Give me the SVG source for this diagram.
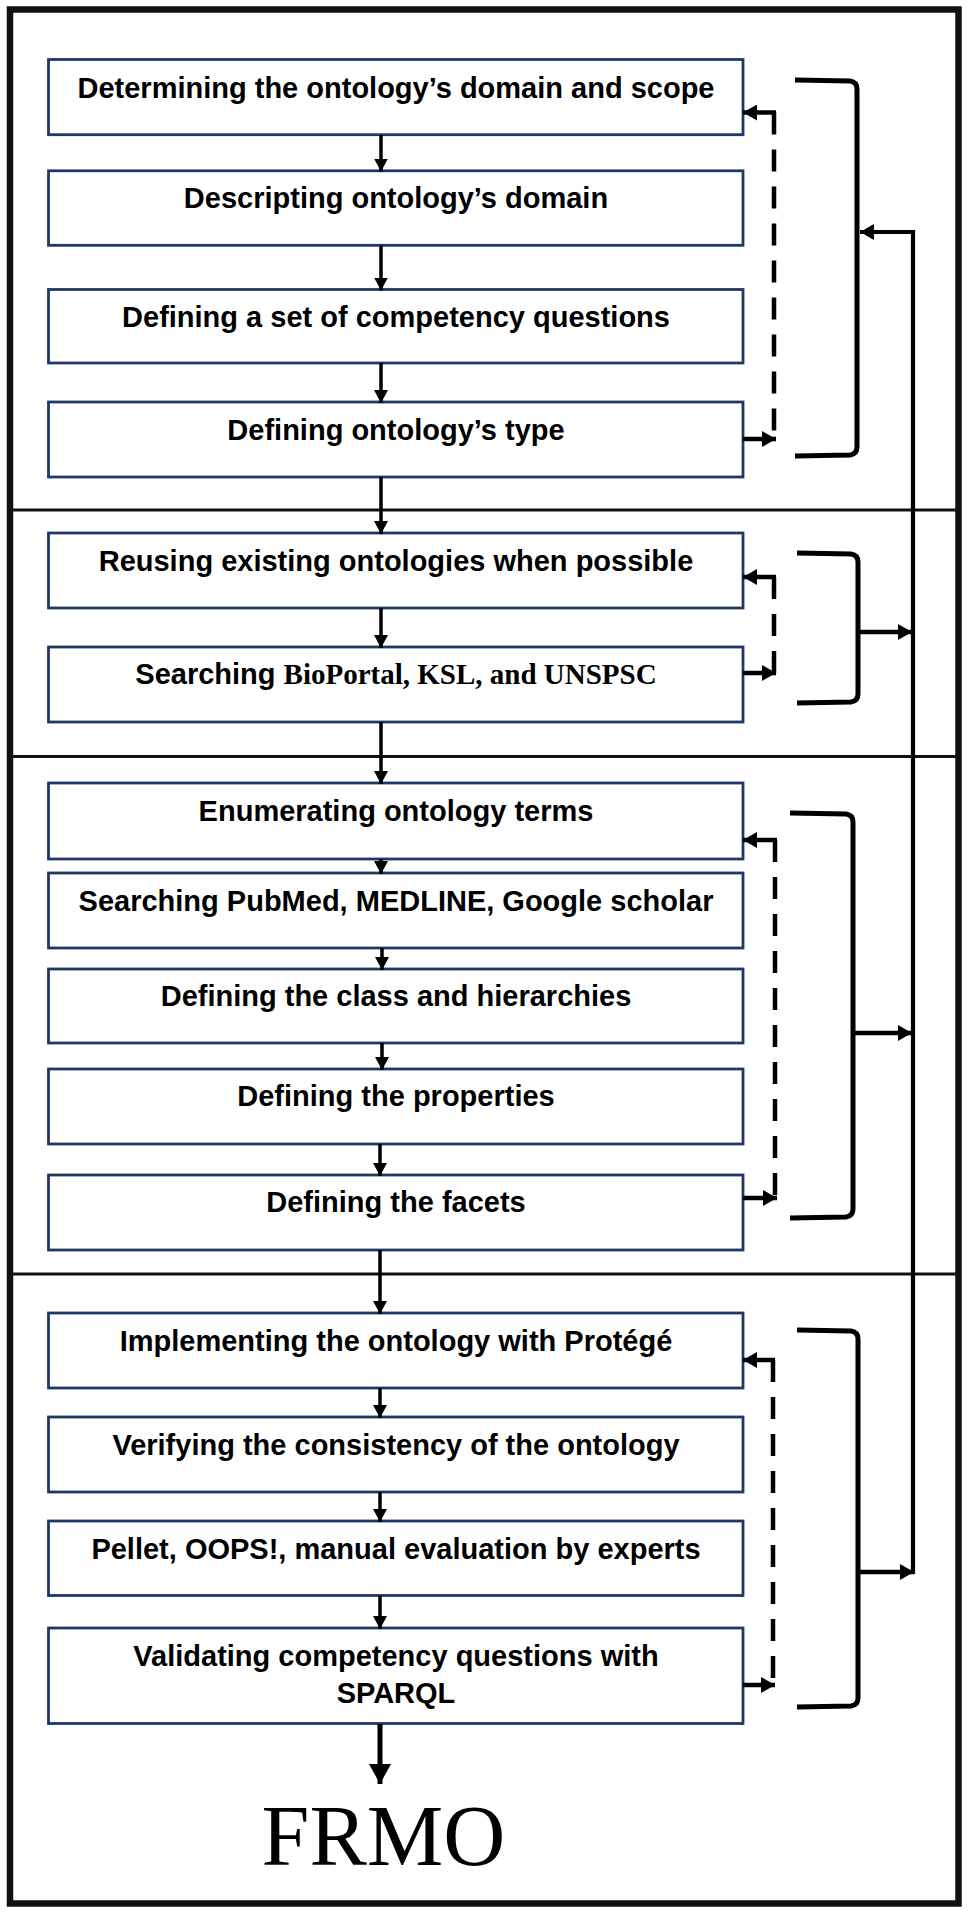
<svg xmlns="http://www.w3.org/2000/svg" width="968" height="1914" viewBox="0 0 968 1914">
<defs>
<style>
.box{fill:#fff;stroke:#1F3864;stroke-width:2.8}
.lbl{font-family:"Liberation Sans",Arial,sans-serif;font-weight:bold;font-size:29px;text-anchor:middle;fill:#000}
.serif{font-family:"Liberation Serif","Times New Roman",serif;font-weight:bold}
.flow{stroke:#000;stroke-width:3.5;fill:none}
.fb{stroke:#000;stroke-width:4.5;fill:none}
.dash{stroke:#000;stroke-width:4.5;fill:none;stroke-dasharray:22 15}
.brk{stroke:#000;stroke-width:5;fill:none}
.loop{stroke:#000;stroke-width:4.2;fill:none}
.div{stroke:#111;stroke-width:3}
.frame{fill:none;stroke:#111;stroke-width:6.5}
.big{stroke:#000;stroke-width:5;fill:none}
.title{font-family:"Liberation Serif","Times New Roman",serif;font-size:86px;text-anchor:middle;fill:#000}
</style>
<marker id="ah" markerUnits="userSpaceOnUse" markerWidth="14" markerHeight="14" refX="13" refY="7" orient="auto">
<path d="M0,0 L13,7 L0,14 z" fill="#000"/>
</marker>
<marker id="ahf" markerUnits="userSpaceOnUse" markerWidth="15" markerHeight="16" refX="14" refY="8" orient="auto">
<path d="M0,0 L14,8 L0,16 z" fill="#000"/>
</marker>
<marker id="ahb" markerUnits="userSpaceOnUse" markerWidth="21" markerHeight="22" refX="20" refY="11" orient="auto">
<path d="M0,0 L20,11 L0,22 z" fill="#000"/>
</marker>
</defs>
<rect width="968" height="1914" fill="#fff"/>
<g id="frame">
<rect class="frame" x="10" y="9.5" width="948.5" height="1894"/>
<line class="div" x1="10" y1="510" x2="958.5" y2="510"/>
<line class="div" x1="10" y1="756.5" x2="958.5" y2="756.5"/>
<line class="div" x1="10" y1="1274" x2="958.5" y2="1274"/>
</g>
<g id="n1"><rect class="box" x="48.5" y="59.5" width="694.5" height="75.2"/><text class="lbl" x="396" y="97.5">Determining the ontology’s domain and scope</text></g>
<g id="n2"><rect class="box" x="48.5" y="170.8" width="694.5" height="74.5"/><text class="lbl" x="396" y="208.3">Descripting ontology’s domain</text></g>
<g id="n3"><rect class="box" x="48.5" y="289.5" width="694.5" height="73.5"/><text class="lbl" x="396" y="327">Defining a set of competency questions</text></g>
<g id="n4"><rect class="box" x="48.5" y="402" width="694.5" height="75"/><text class="lbl" x="396" y="439.5">Defining ontology’s type</text></g>
<g id="n5"><rect class="box" x="48.5" y="533" width="694.5" height="75"/><text class="lbl" x="396" y="571">Reusing existing ontologies when possible</text></g>
<g id="n6"><rect class="box" x="48.5" y="647" width="694.5" height="75"/><text class="lbl" x="396" y="684">Searching <tspan class="serif">BioPortal, KSL, and UNSPSC</tspan></text></g>
<g id="n7"><rect class="box" x="48.5" y="783" width="694.5" height="76"/><text class="lbl" x="396" y="820.5">Enumerating ontology terms</text></g>
<g id="n8"><rect class="box" x="48.5" y="873" width="694.5" height="75"/><text class="lbl" x="396" y="910.5">Searching PubMed, MEDLINE, Google scholar</text></g>
<g id="n9"><rect class="box" x="48.5" y="969" width="694.5" height="74"/><text class="lbl" x="396" y="1006">Defining the class and hierarchies</text></g>
<g id="n10"><rect class="box" x="48.5" y="1069" width="694.5" height="75"/><text class="lbl" x="396" y="1106.3">Defining the properties</text></g>
<g id="n11"><rect class="box" x="48.5" y="1175" width="694.5" height="75"/><text class="lbl" x="396" y="1212">Defining the facets</text></g>
<g id="n12"><rect class="box" x="48.5" y="1313" width="694.5" height="75"/><text class="lbl" x="396" y="1350.5">Implementing the ontology with Protégé</text></g>
<g id="n13"><rect class="box" x="48.5" y="1417" width="694.5" height="75"/><text class="lbl" x="396" y="1454.5">Verifying the consistency of the ontology</text></g>
<g id="n14"><rect class="box" x="48.5" y="1521" width="694.5" height="74.5"/><text class="lbl" x="396" y="1558.5">Pellet, OOPS!, manual evaluation by experts</text></g>
<g id="n15"><rect class="box" x="48.5" y="1628" width="694.5" height="95.5"/><text class="lbl" x="396" y="1665.5">Validating competency questions with</text><text class="lbl" x="396" y="1702.5">SPARQL</text></g>
<g id="frmo"><text class="title" x="383.5" y="1865">FRMO</text></g>
<g id="connectors">
<path class="flow" d="M381,135 V171.5" marker-end="url(#ah)"/>
<path class="flow" d="M381,245.5 V290.5" marker-end="url(#ah)"/>
<path class="flow" d="M381,363 V403" marker-end="url(#ah)"/>
<path class="flow" d="M381,477 V534" marker-end="url(#ah)"/>
<path class="flow" d="M381,608 V648" marker-end="url(#ah)"/>
<path class="flow" d="M381,722 V784" marker-end="url(#ah)"/>
<path class="flow" d="M381,859 V874" marker-end="url(#ah)"/>
<path class="flow" d="M382,948 V970" marker-end="url(#ah)"/>
<path class="flow" d="M382,1043 V1070" marker-end="url(#ah)"/>
<path class="flow" d="M380,1144 V1176" marker-end="url(#ah)"/>
<path class="flow" d="M380,1250 V1314" marker-end="url(#ah)"/>
<path class="flow" d="M380,1388 V1418" marker-end="url(#ah)"/>
<path class="flow" d="M380,1492 V1522" marker-end="url(#ah)"/>
<path class="flow" d="M380,1595.5 V1629" marker-end="url(#ah)"/>
<path class="big" d="M380,1724 V1784" marker-end="url(#ahb)"/>
<path class="dash" d="M774,112.5 V439"/>
<path class="fb" d="M776,112.5 H743" marker-end="url(#ahf)"/>
<path class="fb" d="M743,439 H776" marker-end="url(#ahf)"/>
<path class="dash" d="M774,577 V673"/>
<path class="fb" d="M776,577 H743" marker-end="url(#ahf)"/>
<path class="fb" d="M743,673 H776" marker-end="url(#ahf)"/>
<path class="dash" d="M775,840 V1198"/>
<path class="fb" d="M777,840 H743" marker-end="url(#ahf)"/>
<path class="fb" d="M743,1198 H777" marker-end="url(#ahf)"/>
<path class="dash" d="M773,1360 V1685"/>
<path class="fb" d="M775,1360 H743" marker-end="url(#ahf)"/>
<path class="fb" d="M743,1685 H775" marker-end="url(#ahf)"/>
<path class="brk" d="M795,80 L850,81 Q857,82 857,89 V447 Q857,454 850,455 L795,456"/>
<path class="brk" d="M797,553 L851,554 Q858,555 858,562 V694 Q858,701 851,702 L797,703"/>
<path class="brk" d="M790,813 L846,814 Q853,815 853,822 V1209 Q853,1216 846,1217 L790,1218"/>
<path class="brk" d="M797,1330 L851,1331 Q858,1332 858,1339 V1698 Q858,1705 851,1706 L797,1707"/>
<path class="loop" d="M913,1574 V232 H860" marker-end="url(#ahf)"/>
<path class="fb" d="M859,632 H912" marker-end="url(#ahf)"/>
<path class="fb" d="M855,1033 H912" marker-end="url(#ahf)"/>
<path class="fb" d="M859,1572 H914" marker-end="url(#ahf)"/>
</g>
</svg>
